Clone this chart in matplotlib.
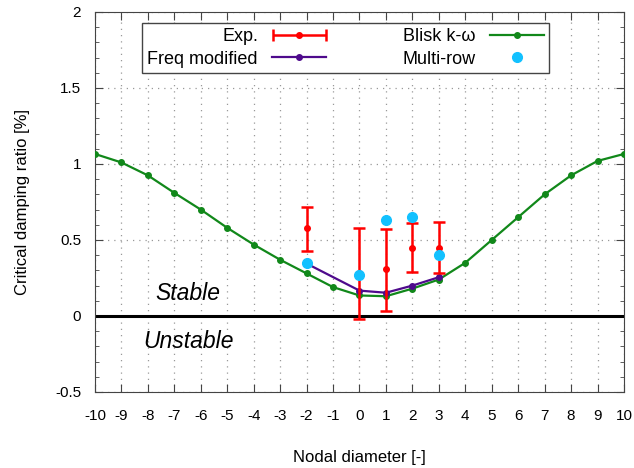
import matplotlib.pyplot as plt
from matplotlib.ticker import MultipleLocator, FuncFormatter
from matplotlib.legend_handler import HandlerErrorbar

plt.rcParams['font.family'] = ['Liberation Sans', 'DejaVu Sans']
plt.rcParams['axes.unicode_minus'] = False

# Blisk k-omega
nd_blisk = list(range(-10, 11))
blisk = [1.066, 1.01, 0.925, 0.81, 0.70, 0.58, 0.47, 0.37, 0.28, 0.19, 0.135,
         0.13, 0.18, 0.24, 0.35, 0.50, 0.65, 0.80, 0.925, 1.02, 1.066]

# Freq modified
nd_freq = [-2, 0, 1, 2, 3]
freq = [0.345, 0.167, 0.153, 0.20, 0.255]

# Experiment
nd_exp = [-2, 0, 1, 2, 3]
exp_val = [0.58, 0.28, 0.31, 0.45, 0.45]
exp_hi = [0.72, 0.58, 0.57, 0.615, 0.62]
exp_lo = [0.43, -0.02, 0.035, 0.29, 0.285]

# Multi-row
nd_multi = [-2, 0, 1, 2, 3]
multi = [0.35, 0.27, 0.63, 0.65, 0.40]

red = '#ff0000'
fig = plt.figure(figsize=(6.34, 4.68), dpi=100)
ax = fig.add_axes([0.1498, 0.1624, 0.8344, 0.812])

ax.axhline(0, color='black', lw=2.2, zorder=2)

err = [[v - l for v, l in zip(exp_val, exp_lo)], [h - v for v, h in zip(exp_val, exp_hi)]]
ax.errorbar(nd_exp, exp_val, yerr=err, fmt='o', color=red, ms=4, lw=1.8,
            capsize=4.5, capthick=1.8, zorder=4)
h_blisk, = ax.plot(nd_blisk, blisk, '-o', color='#11881a', lw=1.6, ms=4, zorder=3)
h_freq, = ax.plot(nd_freq, freq, '-o', color='#4e0a8c', lw=1.6, ms=4, zorder=3)
h_multi, = ax.plot(nd_multi, multi, 'o', color='#12c1ff', ms=7, ls='none', zorder=5)
# legend proxy: horizontal error bar like the original key
h_exp = ax.errorbar([float('nan')], [float('nan')], xerr=[1], fmt='o', color=red, ms=4,
                    lw=1.8, capsize=4.5, capthick=1.8)

ax.text(-6.48, 0.145, 'Stable', style='italic', fontsize=16.5, ha='center', va='center')
ax.text(-6.48, -0.171, 'Unstable', style='italic', fontsize=16.5, ha='center', va='center')

ax.set_xlim(-10, 10)
ax.set_ylim(-0.5, 2)
ax.set_xticks(range(-10, 11))
ax.yaxis.set_major_locator(MultipleLocator(0.5))
ax.yaxis.set_minor_locator(MultipleLocator(0.1))
ax.yaxis.set_major_formatter(FuncFormatter(lambda v, p: f'{v:g}'))
ax.tick_params(which='both', direction='in', top=True, right=True, labelsize=11)
ax.tick_params(which='major', length=6, color='#444444')
ax.tick_params(which='minor', length=3, color='#444444')
ax.tick_params(axis='x', pad=12)
ax.tick_params(axis='y', pad=10)
ax.grid(True, ls=(0, (1, 4)), color='#999999', lw=0.9)
for s in ax.spines.values():
    s.set_color('#444444')

ax.set_xlabel('Nodal diameter [-]', fontsize=12, labelpad=20)
ax.set_ylabel('Critical damping ratio [%]', fontsize=12, labelpad=18)

leg = ax.legend([h_exp, h_freq, h_blisk, h_multi],
                ['Exp.', 'Freq modified', 'Blisk k-ω', 'Multi-row'], ncol=2,
                markerfirst=False, loc='upper center', bbox_to_anchor=(0.474, 0.995),
                fontsize=13, fancybox=False, framealpha=1, edgecolor='#444444',
                handlelength=3.0, handletextpad=0.8, columnspacing=4.2,
                borderpad=0.3, labelspacing=0.3,
                handler_map={type(h_exp): HandlerErrorbar(xerr_size=1.45)})
leg.get_frame().set_linewidth(1.0)

fig.savefig('out.png', dpi=100)
